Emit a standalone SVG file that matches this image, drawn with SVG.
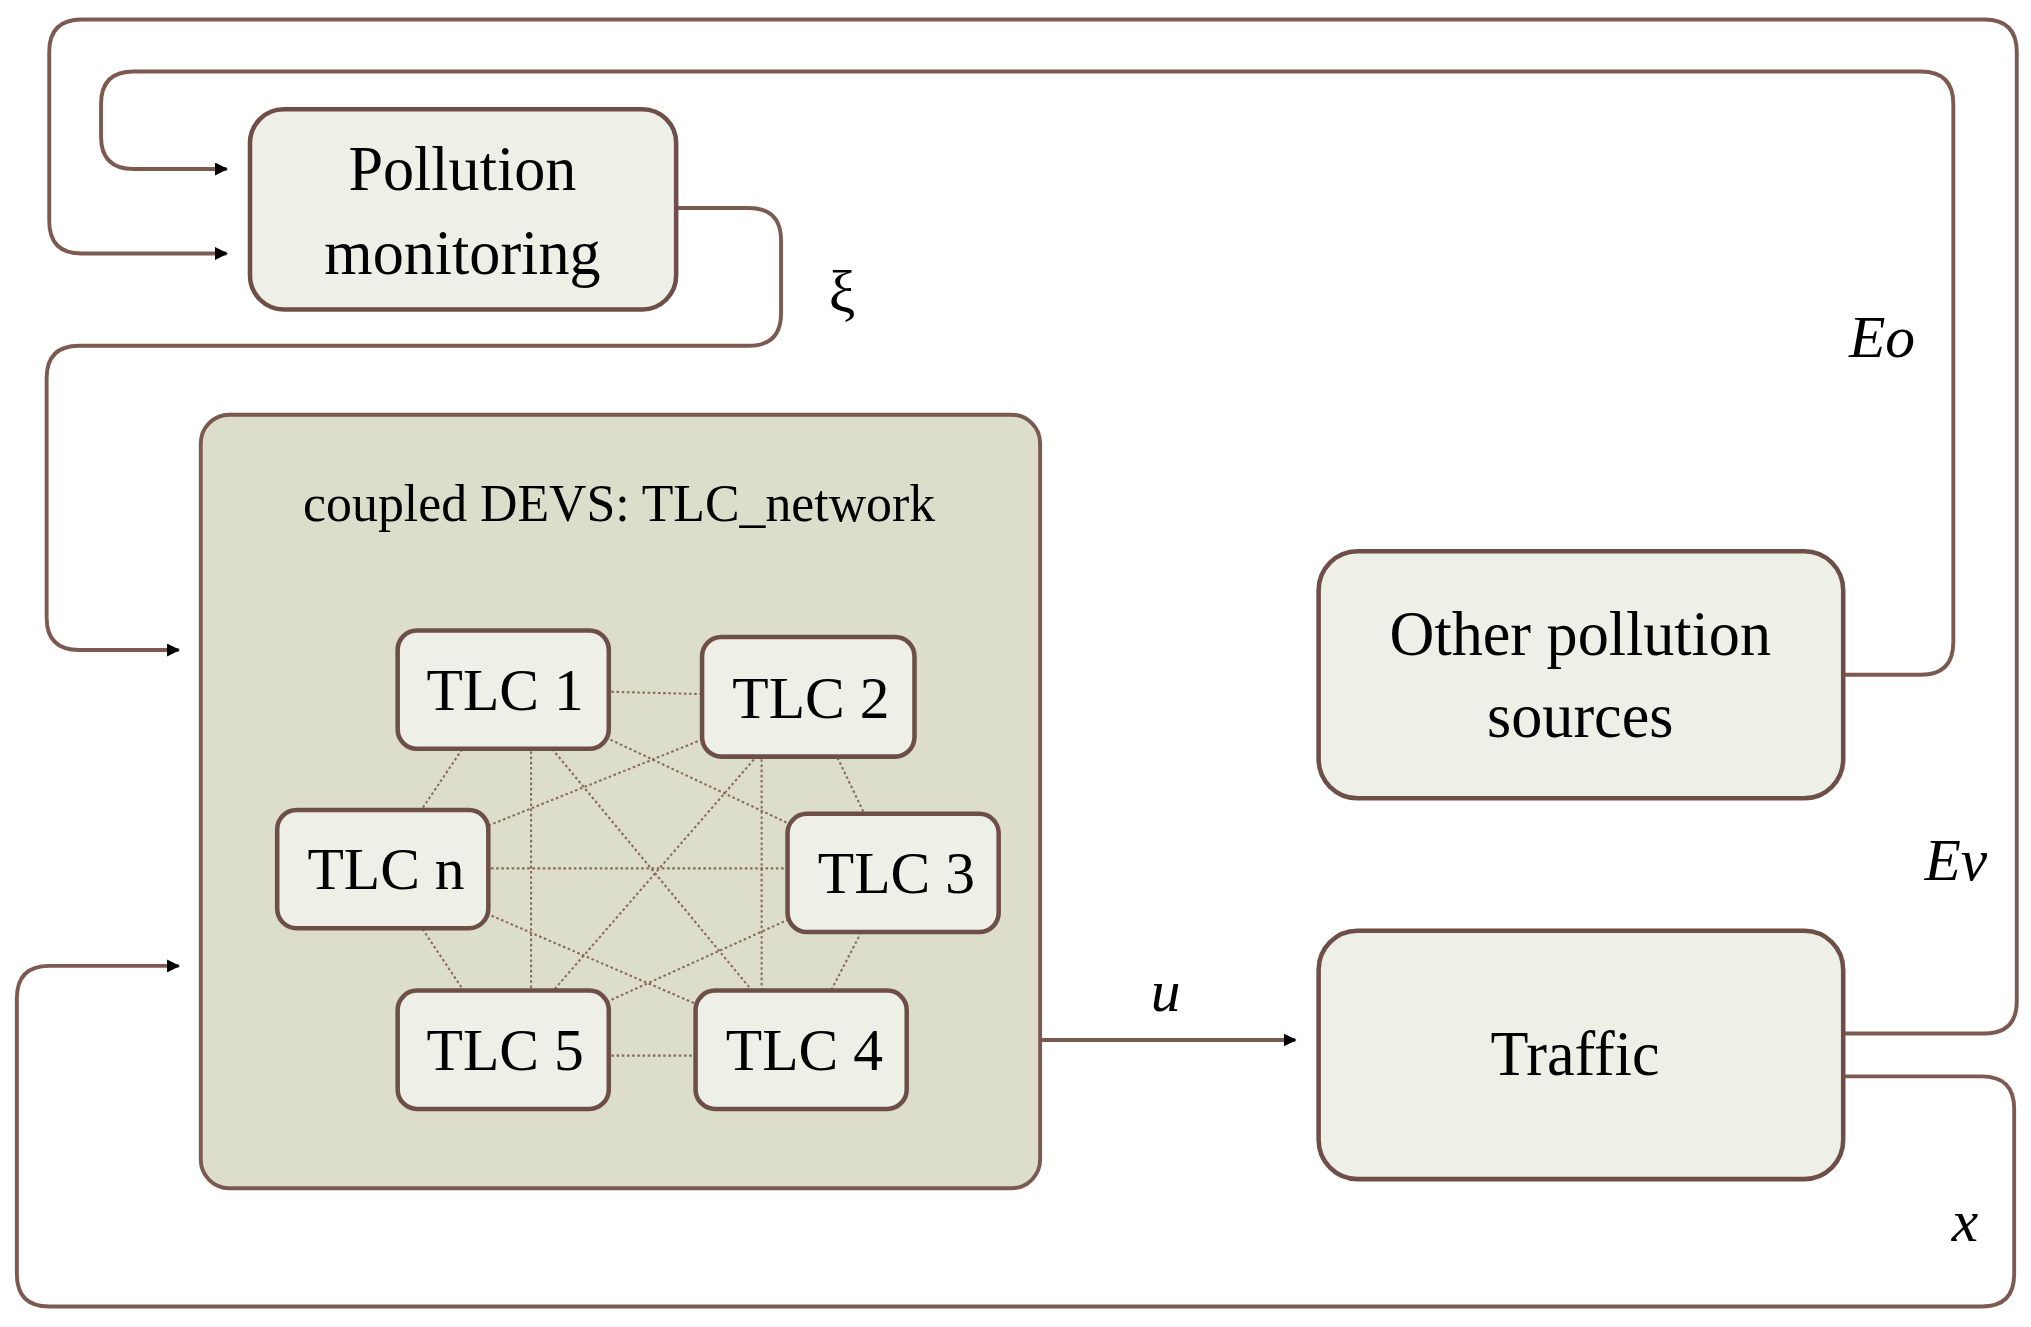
<svg xmlns="http://www.w3.org/2000/svg" width="2031" height="1327" viewBox="0 0 2031 1327">
<defs>
<marker id="ar" markerWidth="10" markerHeight="10" refX="9" refY="5" orient="auto" markerUnits="userSpaceOnUse" viewBox="0 0 10 10"><path d="M0,0 L10,5 L0,10 z" fill="#000"/></marker>
<style>
.box{fill:#eeefe6;stroke:#6e4f47;stroke-width:3.5}
.big{fill:#dcdecb;stroke:#7a5a50;stroke-width:3}
.ln{fill:none;stroke:#7d5a50;stroke-width:3}
.dot{stroke:#8a6a5e;stroke-width:1.6;stroke-dasharray:2 2}
.t{font-family:"Liberation Serif",serif;fill:#000;text-anchor:middle}
.i{font-style:italic}
</style>
</defs>
<rect width="2031" height="1327" fill="#fff"/>
<g transform="scale(1.2953,1.3)">
<g id="connectors">
<path class="ln" d="M1423,795 H1532 Q1557,795 1557,770 V40 Q1557,15 1532,15 H63 Q38,15 38,40 V170 Q38,195 63,195 H175" marker-end="url(#ar)" transform="translate(0,0)"/>
<path class="ln" d="M1423,519 H1483 Q1508,519 1508,494 V80 Q1508,55 1483,55 H103 Q78,55 78,80 V105 Q78,130 103,130 H175" marker-end="url(#ar)"/>
<path class="ln" d="M522,160 H578 Q603,160 603,185 V241 Q603,266 578,266 H61 Q36,266 36,291 V475 Q36,500 61,500 H138" marker-end="url(#ar)"/>
<path class="ln" d="M803,800 H1000" marker-end="url(#ar)"/>
<path class="ln" d="M1423,828 H1530 Q1555,828 1555,853 V980 Q1555,1005 1530,1005 H38 Q13,1005 13,980 V768 Q13,743 38,743 H138" marker-end="url(#ar)"/>
</g>
<g id="coupled">
<rect class="big" x="155" y="319" width="648" height="595" rx="22"/>
<text class="t" x="478" y="401" font-size="40">coupled DEVS: TLC_network</text>
<g id="mesh">
<line class="dot" x1="388" y1="530" x2="624" y2="536"/>
<line class="dot" x1="388" y1="530" x2="295" y2="668"/>
<line class="dot" x1="388" y1="530" x2="689" y2="671"/>
<line class="dot" x1="410" y1="530" x2="410" y2="807"/>
<line class="dot" x1="388" y1="530" x2="618" y2="807"/>
<line class="dot" x1="624" y1="536" x2="295" y2="668"/>
<line class="dot" x1="624" y1="536" x2="689" y2="671"/>
<line class="dot" x1="624" y1="536" x2="388" y2="807"/>
<line class="dot" x1="588" y1="536" x2="588" y2="807"/>
<line class="dot" x1="295" y1="668" x2="689" y2="668"/>
<line class="dot" x1="295" y1="668" x2="388" y2="807"/>
<line class="dot" x1="295" y1="668" x2="618" y2="807"/>
<line class="dot" x1="689" y1="671" x2="388" y2="807"/>
<line class="dot" x1="689" y1="671" x2="618" y2="807"/>
<line class="dot" x1="388" y1="812" x2="618" y2="812"/>
</g>
<g id="tlc1"><rect class="box" x="307" y="485" width="163" height="91" rx="15"/><text class="t" x="390" y="546" font-size="46">TLC 1</text></g>
<g id="tlc2"><rect class="box" x="542" y="490" width="164" height="92" rx="15"/><text class="t" x="626" y="552" font-size="46">TLC 2</text></g>
<g id="tlcn"><rect class="box" x="214" y="623" width="163" height="91" rx="15"/><text class="t" x="298" y="684" font-size="46">TLC n</text></g>
<g id="tlc3"><rect class="box" x="608" y="626" width="163" height="91" rx="15"/><text class="t" x="692" y="687" font-size="46">TLC 3</text></g>
<g id="tlc5"><rect class="box" x="307" y="762" width="163" height="91" rx="15"/><text class="t" x="390" y="823" font-size="46">TLC 5</text></g>
<g id="tlc4"><rect class="box" x="537" y="762" width="163" height="91" rx="15"/><text class="t" x="621" y="823" font-size="46">TLC 4</text></g>
</g>
<g id="pollution"><rect class="box" x="193" y="84" width="329" height="154" rx="26"/><text class="t" x="357" y="146" font-size="48">Pollution</text><text class="t" x="357" y="211" font-size="48">monitoring</text></g>
<g id="other"><rect class="box" x="1018" y="424" width="405" height="190" rx="30"/><text class="t" x="1220" y="504" font-size="48">Other pollution</text><text class="t" x="1220" y="567" font-size="48">sources</text></g>
<g id="traffic"><rect class="box" x="1018" y="716" width="405" height="191" rx="30"/><text class="t" x="1216" y="827" font-size="48">Traffic</text></g>
<g id="labels">
<text class="t" x="650" y="240" font-size="46">ξ</text>
<text class="t i" x="1453" y="275" font-size="46">Eo</text>
<text class="t i" x="1510" y="677" font-size="46">Ev</text>
<text class="t i" x="900" y="778" font-size="46">u</text>
<text class="t i" x="1517" y="955" font-size="46">x</text>
</g>
</g>
</svg>
